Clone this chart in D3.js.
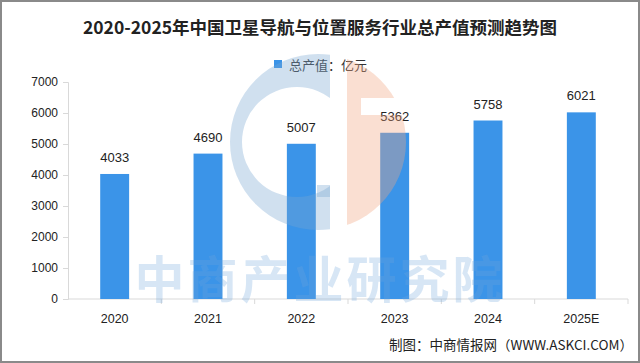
<!DOCTYPE html>
<html>
<head>
<meta charset="utf-8">
<script src="https://cdn.jsdelivr.net/npm/d3@7/dist/d3.min.js"></script>
<style>
  html, body { margin: 0; padding: 0; background: #fff; }
  svg { display: block; font-family: "Liberation Sans", Arial, "Noto Sans CJK SC", sans-serif; }
</style>
</head>
<body>
<svg id="chart"></svg>
<script>
const YEARS = ["2020", "2021", "2022", "2023", "2024", "2025E"];
const VALUES = [4033, 4690, 5007, 5362, 5758, 6021];
const Y_TICKS = [0, 1000, 2000, 3000, 4000, 5000, 6000, 7000];
const TITLE = "2020-2025年中国卫星导航与位置服务行业总产值预测趋势图";
const LEGEND = "总产值：亿元";
const SOURCE = "制图：中商情报网（WWW.ASKCI.COM）";

const W = 640, H = 363;
const MARGIN = { top: 82, right: 12, bottom: 64, left: 68 };
const BAR = "#3b94e8";
const CJK = "'Noto Sans CJK SC', sans-serif";

const svg = d3.select("#chart").attr("width", W).attr("height", H);
const defs = svg.append("defs");

// outer frame
svg.append("rect")
  .attr("x", 1).attr("y", 1).attr("width", W - 2).attr("height", H - 2)
  .attr("fill", "#fff").attr("stroke", "#8a8a8a").attr("stroke-width", 2);

const x = d3.scaleBand().domain(YEARS).range([MARGIN.left, W - MARGIN.right]).padding(0);
const y = d3.scaleLinear().domain([0, 7000]).range([H - MARGIN.bottom, MARGIN.top]);
const barW = x.bandwidth() * 0.31;

// title + legend
svg.append("text")
  .attr("x", 320).attr("y", 34).attr("text-anchor", "middle")
  .attr("font-family", CJK).attr("font-weight", "bold").attr("font-size", 17.5)
  .attr("fill", "#222").text(TITLE);

svg.append("rect").attr("x", 274).attr("y", 60).attr("width", 8).attr("height", 8).attr("fill", BAR);
svg.append("text")
  .attr("x", 289).attr("y", 69.5)
  .attr("font-family", CJK).attr("font-size", 13).attr("fill", "#333").text(LEGEND);

// y axis
const yAxis = svg.append("g")
  .attr("transform", `translate(${MARGIN.left},0)`)
  .call(d3.axisLeft(y).tickValues(Y_TICKS).tickFormat(d3.format("d")).tickSize(5).tickPadding(5));
yAxis.select(".domain").attr("stroke", "#d9d9d9");
yAxis.selectAll(".tick line").attr("stroke", "#d9d9d9");
yAxis.selectAll(".tick text").attr("fill", "#222").attr("font-size", 12);

// x axis with ticks between bands
const xAxisG = svg.append("g").attr("transform", `translate(0,${y(0)})`);
xAxisG.append("line")
  .attr("x1", MARGIN.left).attr("x2", W - MARGIN.right)
  .attr("stroke", "#d9d9d9");
xAxisG.selectAll("line.sep")
  .data(YEARS.slice(1).concat(["end"]))
  .join("line")
    .attr("class", "sep")
    .attr("x1", (d, i) => MARGIN.left + x.step() * (i + 1))
    .attr("x2", (d, i) => MARGIN.left + x.step() * (i + 1))
    .attr("y1", 0).attr("y2", 5)
    .attr("stroke", "#d9d9d9");
xAxisG.selectAll("text")
  .data(YEARS)
  .join("text")
    .attr("x", d => x(d) + x.bandwidth() / 2)
    .attr("y", 24)
    .attr("text-anchor", "middle")
    .attr("font-size", 12.5).attr("fill", "#222")
    .text(d => d);

// bars
const data = YEARS.map((yr, i) => ({ yr, v: VALUES[i] }));
svg.selectAll("rect.bar")
  .data(data)
  .join("rect")
    .attr("class", "bar")
    .attr("x", d => x(d.yr) + (x.bandwidth() - barW) / 2)
    .attr("y", d => y(d.v))
    .attr("width", barW)
    .attr("height", d => y(0) - y(d.v))
    .attr("fill", BAR);

svg.selectAll("text.val")
  .data(data)
  .join("text")
    .attr("class", "val")
    .attr("x", d => x(d.yr) + x.bandwidth() / 2)
    .attr("y", d => y(d.v) - 12)
    .attr("text-anchor", "middle")
    .attr("font-size", 13).attr("fill", "#222")
    .text(d => d.v);

// watermark logo (drawn over the bars, translucent)
const cx = 318, cy = 142, R = 88;
defs.append("clipPath").attr("id", "logo-left")
  .append("rect").attr("x", cx - R).attr("y", cy - R).attr("width", 330 - (cx - R)).attr("height", 2 * R);
defs.append("clipPath").attr("id", "logo-circle")
  .append("circle").attr("cx", cx).attr("cy", cy).attr("r", R);

const wm = svg.append("g").attr("pointer-events", "none");
const hx = 297, hr = 55;
const ring = d3.path();
ring.arc(cx, cy, R, 0, 2 * Math.PI);
ring.moveTo(hx + hr, cy);
ring.arc(hx, cy, hr, 0, 2 * Math.PI);
const blueG = wm.append("g").attr("clip-path", "url(#logo-left)").attr("fill", "rgba(120,165,210,0.35)");
blueG.append("path").attr("d", ring.toString()).attr("fill-rule", "evenodd");
blueG.append("rect").attr("x", 317).attr("y", 185).attr("width", 13).attr("height", 12);

const peachG = wm.append("g").attr("clip-path", "url(#logo-circle)").attr("fill", "rgba(240,165,130,0.36)");
peachG.append("rect").attr("x", 347).attr("y", cy - R).attr("width", 14).attr("height", 2 * R);
peachG.append("rect").attr("x", 361).attr("y", cy - R).attr("width", 50).attr("height", 98 - (cy - R));
peachG.append("rect").attr("x", 361).attr("y", 115).attr("width", 50).attr("height", cy + R - 115);

wm.append("text")
  .attr("x", 320).attr("y", 298)
  .attr("text-anchor", "middle")
  .attr("font-family", CJK).attr("font-size", 50).attr("font-weight", "bold")
  .attr("letter-spacing", 3)
  .attr("fill", "rgba(110,165,220,0.28)")
  .text("中商产业研究院");

// source
svg.append("text")
  .attr("x", 633).attr("y", 350).attr("text-anchor", "end")
  .attr("font-family", CJK).attr("font-size", 13.5).attr("fill", "#222")
  .text(SOURCE);
</script>
</body>
</html>
